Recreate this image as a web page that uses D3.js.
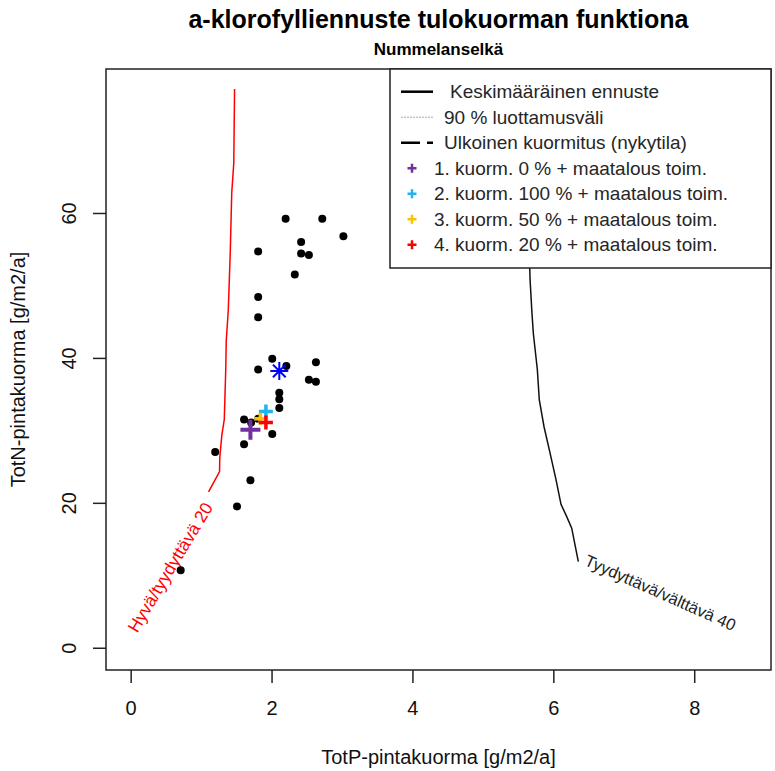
<!DOCTYPE html>
<html>
<head>
<meta charset="utf-8">
<script src="https://cdn.jsdelivr.net/npm/d3@7"></script>
<style>
body { margin: 0; background: #fff; }
text { font-family: 'Liberation Sans', Arial, sans-serif; }
</style>
</head>
<body>
<svg width="775" height="771"></svg>
<script>
const svg = d3.select('svg')
const w = +svg.attr('width'), h = +svg.attr('height')

// havaitut vuosikuormat (P, N)
const obsP = [2.20, 2.72, 3.02, 2.42, 1.81, 2.42, 2.53, 2.33, 1.81, 1.81,
    2.01, 2.21, 1.81, 2.63, 2.53, 2.63, 2.11, 2.11, 2.11, 1.61,
    1.71, 1.81, 2.01, 1.61, 1.20, 1.70, 1.51, 0.71]
const obsN = [59.2, 59.2, 56.8, 56.0, 54.7, 54.4, 54.2, 51.5, 48.4, 45.6,
    39.9, 38.9, 38.4, 39.4, 37.0, 36.7, 35.2, 34.3, 33.1, 31.5,
    31.1, 31.6, 29.5, 28.1, 27.0, 23.1, 19.5, 10.7]

// nykytila
const currentP = [2.11]
const currentN = [38.2]

// skenaariot
const scenarioNames = [
    '1. kuorm. 0 % + maatalous toim.',
    '2. kuorm. 100 % + maatalous toim.',
    '3. kuorm. 50 % + maatalous toim.',
    '4. kuorm. 20 % + maatalous toim.'
]
const scenarioP = [1.70, 1.92, 1.84, 1.92]
const scenarioN = [30.1, 32.6, 31.6, 31.1]
const scenarioColors = ['#7030A0', '#1FB4F0', '#FFC000', '#FF0000']

// a-klorofyllin rajakäyrät
const contour20P = [1.475, 1.464, 1.435, 1.414, 1.386, 1.357, 1.350, 1.329, 1.294, 1.265, 1.262, 1.106]
const contour20N = [77.1, 66.9, 62.8, 54.6, 46.6, 42.4, 38.4, 31.5, 29.3, 26.2, 24.3, 21.5]
const contour40P = [5.655, 5.670, 5.694, 5.716, 5.773, 5.801, 5.868, 5.953, 6.038, 6.109, 6.190, 6.261, 6.355]
const contour40N = [56.0, 50.8, 46.6, 43.4, 38.4, 34.2, 30.5, 26.9, 23.2, 19.8, 18.1, 16.5, 11.9]

const contourLabels = ['Hyvä/tyydyttävä 20', 'Tyydyttävä/välttävä 40']
const labelP = [0.56, 7.52]
const labelN = [11.1, 7.6]

const legendLabels = ['Keskimääräinen ennuste', '90 % luottamusväli', 'Ulkoinen kuormitus (nykytila)']

const xTicks = [0, 2, 4, 6, 8]
const yTicks = [0, 20, 40, 60]

const margin = { top: 69, right: 4, bottom: 101, left: 106 }
const innerW = w - margin.left - margin.right
const innerH = h - margin.top - margin.bottom

const xScale = d3.scaleLinear().domain([-0.35, 9.09]).range([0, innerW])
const yScale = d3.scaleLinear().domain([-3.07, 79.87]).range([innerH, 0])

const g = svg.append('g')
    .attr('transform', `translate(${margin.left}, ${margin.top})`)

const defs = svg.append('defs')
defs.append('clipPath').attr('id', 'plotclip')
    .append('rect').attr('width', innerW).attr('height', innerH)

// akselit
const xAxis = g.append('g')
    .attr('transform', `translate(0, ${innerH})`)
    .call(d3.axisBottom(xScale).tickValues(xTicks).tickSize(13).tickPadding(18))
const yAxis = g.append('g')
    .call(d3.axisLeft(yScale).tickValues(yTicks).tickSize(13))

;[xAxis, yAxis].forEach(a => {
    a.select('.domain').remove()
    a.selectAll('line').attr('stroke', '#222').attr('stroke-width', 1.5)
    a.selectAll('text')
        .attr('font-family', "'Liberation Sans', Arial, sans-serif")
        .attr('font-size', 20)
        .attr('fill', '#111')
})
yAxis.selectAll('text')
    .attr('x', 0)
    .attr('dy', '0.35em')
    .attr('text-anchor', 'middle')
    .attr('transform', 'translate(-37, 0) rotate(-90)')

const plot = g.append('g').attr('clip-path', 'url(#plotclip)')

const line = d3.line()
    .x(d => xScale(d[0]))
    .y(d => yScale(d[1]))

plot.append('path')
    .datum(d3.zip(contour20P, contour20N))
    .attr('d', line)
    .attr('fill', 'none')
    .attr('stroke', '#FF0000')
    .attr('stroke-width', 1.5)

plot.append('path')
    .datum(d3.zip(contour40P, contour40N))
    .attr('d', line)
    .attr('fill', 'none')
    .attr('stroke', '#111')
    .attr('stroke-width', 1.5)

plot.selectAll('text.clabel')
    .data(contourLabels)
    .enter().append('text')
        .attr('class', 'clabel')
        .attr('transform', (d, i) => `translate(${xScale(labelP[i])}, ${yScale(labelN[i])}) rotate(${i === 0 ? -59 : 24})`)
        .attr('text-anchor', 'middle')
        .attr('dy', '0.35em')
        .attr('font-size', (d, i) => i === 0 ? 17.5 : 16.5)
        .attr('fill', (d, i) => i === 0 ? '#FF0000' : '#222')
        .text(d => d)

plot.selectAll('circle.obs')
    .data(d3.zip(obsP, obsN))
    .enter().append('circle')
        .attr('class', 'obs')
        .attr('cx', d => xScale(d[0]))
        .attr('cy', d => yScale(d[1]))
        .attr('r', 4)
        .attr('fill', '#000')

const plusPath = s => `M${-s},0H${s}M0,${-s}V${s}`
const starPath = s => {
    const k = s * 0.707
    return `M${-s},0H${s}M0,${-s}V${s}M${-k},${-k}L${k},${k}M${-k},${k}L${k},${-k}`
}

plot.selectAll('path.current')
    .data(d3.zip(currentP, currentN))
    .enter().append('path')
        .attr('class', 'current')
        .attr('transform', d => `translate(${xScale(d[0])}, ${yScale(d[1])})`)
        .attr('d', starPath(9))
        .attr('stroke', '#0000FF')
        .attr('stroke-width', 2)

const scenarioSize = [10, 7, 6, 7]
plot.selectAll('path.scen')
    .data(d3.zip(scenarioP, scenarioN, scenarioColors))
    .enter().append('path')
        .attr('class', 'scen')
        .attr('transform', d => `translate(${xScale(d[0])}, ${yScale(d[1])})`)
        .attr('d', (d, i) => plusPath(scenarioSize[i]))
        .attr('stroke', d => d[2])
        .attr('stroke-width', (d, i) => i === 0 ? 4 : 3.5)

// kehys
g.append('rect')
    .attr('width', innerW)
    .attr('height', innerH)
    .attr('fill', 'none')
    .attr('stroke', '#222')
    .attr('stroke-width', 1.5)

// selite
const legendX = 390 - margin.left
const legend = g.append('g').attr('transform', `translate(${legendX}, 0)`)
legend.append('rect')
    .attr('width', innerW - legendX)
    .attr('height', 199)
    .attr('fill', '#fff')
    .attr('stroke', '#222')
    .attr('stroke-width', 1.5)

const rowY = i => 22.7 + i * 25.5
const lineStyles = [
    { stroke: '#000', width: 2.5, dash: null },
    { stroke: '#aaa', width: 1, dash: '2,1' },
    { stroke: '#000', width: 2.5, dash: '19,7' }
]

const lineRows = legend.selectAll('g.lrow')
    .data(legendLabels)
    .enter().append('g')
        .attr('class', 'lrow')
        .attr('transform', (d, i) => `translate(0, ${rowY(i)})`)
lineRows.append('line')
    .attr('x1', 11).attr('x2', 43)
    .attr('stroke', (d, i) => lineStyles[i].stroke)
    .attr('stroke-width', (d, i) => lineStyles[i].width)
    .attr('stroke-dasharray', (d, i) => lineStyles[i].dash)
lineRows.append('text')
    .attr('x', (d, i) => i === 0 ? 60 : 54)
    .attr('dy', '0.35em')
    .attr('font-size', 19)
    .attr('fill', '#262626')
    .text(d => d)

const pointRows = legend.selectAll('g.prow')
    .data(scenarioNames)
    .enter().append('g')
        .attr('class', 'prow')
        .attr('transform', (d, i) => `translate(0, ${rowY(i + 3)})`)
pointRows.append('path')
    .attr('transform', 'translate(22, 0)')
    .attr('d', plusPath(4.5))
    .attr('stroke', (d, i) => scenarioColors[i])
    .attr('stroke-width', 2.5)
pointRows.append('text')
    .attr('x', 44)
    .attr('dy', '0.35em')
    .attr('font-size', 19)
    .attr('fill', '#262626')
    .text(d => d)

// otsikot
svg.append('text')
    .attr('x', margin.left + innerW / 2)
    .attr('y', 28)
    .attr('text-anchor', 'middle')
    .attr('font-weight', 'bold')
    .attr('font-size', 25)
    .attr('fill', '#000')
    .text('a-klorofylliennuste tulokuorman funktiona')

svg.append('text')
    .attr('x', margin.left + innerW / 2)
    .attr('y', 55)
    .attr('text-anchor', 'middle')
    .attr('font-weight', 'bold')
    .attr('font-size', 17)
    .attr('fill', '#000')
    .text('Nummelanselkä')

svg.append('text')
    .attr('x', margin.left + innerW / 2)
    .attr('y', 764)
    .attr('text-anchor', 'middle')
    .attr('font-size', 20)
    .attr('fill', '#111')
    .text('TotP-pintakuorma [g/m2/a]')

svg.append('text')
    .attr('transform', `translate(25, ${margin.top + innerH / 2}) rotate(-90)`)
    .attr('text-anchor', 'middle')
    .attr('font-size', 20)
    .attr('fill', '#111')
    .text('TotN-pintakuorma [g/m2/a]')
</script>
</body>
</html>
